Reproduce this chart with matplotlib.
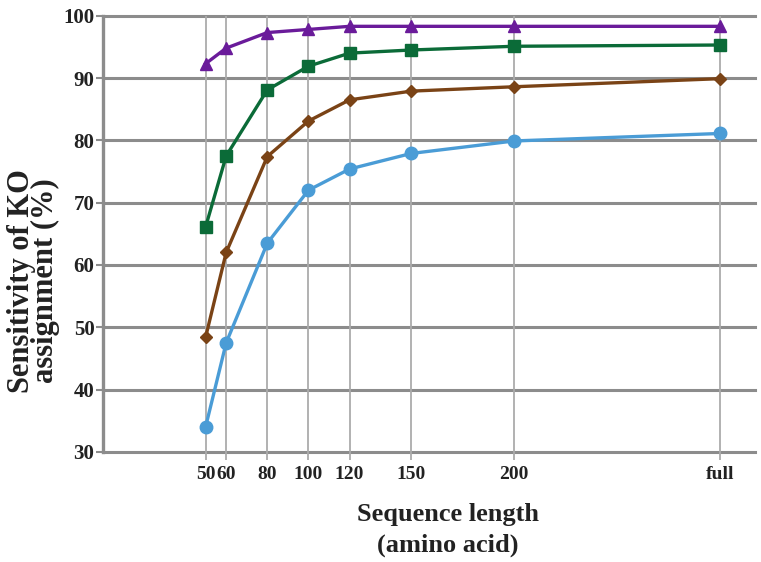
import matplotlib
matplotlib.use("Agg")
import matplotlib.pyplot as plt

# Sequence lengths (amino acids); "full" is placed at 300 on the axis
lengths = [50, 60, 80, 100, 120, 150, 200, 300]
tick_labels = ["50", "60", "80", "100", "120", "150", "200", "full"]

# Sensitivity of KO assignment (%) for four series
series_triangle = [92.3, 94.8, 97.3, 97.8, 98.3, 98.3, 98.3, 98.3]
series_square = [66.1, 77.5, 88.1, 91.9, 94.0, 94.5, 95.1, 95.3]
series_diamond = [48.4, 62.0, 77.4, 83.1, 86.5, 87.9, 88.6, 89.9]
series_circle = [34.0, 47.5, 63.5, 72.0, 75.4, 77.9, 79.9, 81.1]

y_ticks = [30, 40, 50, 60, 70, 80, 90, 100]

plt.rcParams["font.family"] = ["Liberation Serif", "DejaVu Serif"]
plt.rcParams["font.weight"] = "bold"

fig = plt.figure(figsize=(7.61, 5.62), dpi=100)
ax = fig.add_axes([0.135, 0.196, 0.857, 0.776])

grid_h = "#8c8c8c"
grid_v = "#ababab"

for y in y_ticks:
    ax.axhline(y, color=grid_h, lw=2.2, zorder=1, clip_on=False)
for x in lengths:
    ax.axvline(x, color=grid_v, lw=1.3, zorder=1)

styles = [
    (series_triangle, "#6a1b9a", "^", 9),
    (series_square, "#0b6b38", "s", 8),
    (series_diamond, "#7a4316", "D", 6.5),
    (series_circle, "#4a9cd6", "o", 9),
]
for vals, col, mk, ms in styles:
    ax.plot(lengths, vals, color=col, lw=2.4, marker=mk, markersize=ms,
            markerfacecolor=col, markeredgecolor=col, zorder=3)

ax.set_xlim(0, 317)
ax.set_ylim(30, 100)
ax.set_xticks(lengths)
ax.set_xticklabels(tick_labels)
ax.set_yticks(y_ticks)

for side in ["top", "right", "bottom"]:
    ax.spines[side].set_visible(False)
ax.spines["left"].set_color(grid_h)
ax.spines["left"].set_linewidth(2.4)

ax.tick_params(axis="y", length=5, width=1.5, color=grid_h, labelsize=15, pad=1)
ax.tick_params(axis="x", length=6, width=1.3, color=grid_v, labelsize=14, pad=4)
for lab in ax.get_xticklabels() + ax.get_yticklabels():
    lab.set_fontweight("bold")
    lab.set_color("#222222")

fig.text(0.044, 0.5, "Sensitivity of KO\nassignment (%)", rotation=90,
         ha="center", va="center", fontsize=22, fontweight="bold",
         color="#222222", linespacing=0.8)
fig.text(0.589, 0.057, "Sequence length\n(amino acid)", ha="center",
         va="center", fontsize=19, fontweight="bold", color="#222222",
         linespacing=1.45)

fig.savefig("out.png", dpi=100)
